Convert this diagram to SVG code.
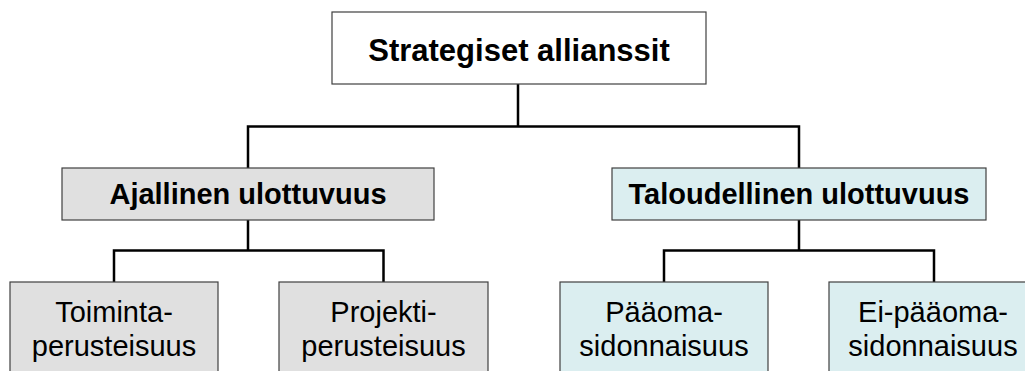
<svg xmlns="http://www.w3.org/2000/svg" width="1025" height="371" viewBox="0 0 1025 371">
  <style>
    .box { stroke: #404040; stroke-width: 1.2; }
    .root { fill: #ffffff; }
    .time { fill: #e0e0e0; }
    .money { fill: #dbeef0; }
    .head { font-family: "Liberation Sans", Arial, sans-serif; font-weight: bold; fill: #000; text-anchor: middle; }
    .leaf { font-family: "Liberation Sans", Arial, sans-serif; font-size: 29px; fill: #000; text-anchor: middle; }
    .wire { fill: none; stroke: #000; stroke-width: 2.5; stroke-linecap: square; }
  </style>

  <!-- connectors -->
  <g id="connectors">
    <path class="wire" d="M518 84 V126.5 M248 168 V126.5 H799 V168"/>
    <path class="wire" d="M248 220 V250.5 M114 282 V250.5 H383.5 V282"/>
    <path class="wire" d="M799 220 V250.5 M664 282 V250.5 H934 V282"/>
  </g>

  <g id="root">
    <rect class="box root" x="332" y="12" width="374" height="72"/>
    <text class="head" x="519" y="61" font-size="31">Strategiset allianssit</text>
  </g>

  <g id="ajallinen">
    <rect class="box time" x="62" y="168" width="372" height="52"/>
    <text class="head" x="248" y="204" font-size="29">Ajallinen ulottuvuus</text>
  </g>

  <g id="taloudellinen">
    <rect class="box money" x="612" y="168" width="374" height="52"/>
    <text class="head" x="799" y="204" font-size="29">Taloudellinen ulottuvuus</text>
  </g>

  <g id="toiminta">
    <rect class="box time" x="10" y="282" width="208" height="100"/>
    <text class="leaf" x="114" y="322">Toiminta-</text>
    <text class="leaf" x="114" y="356">perusteisuus</text>
  </g>

  <g id="projekti">
    <rect class="box time" x="279" y="282" width="209" height="100"/>
    <text class="leaf" x="383.5" y="322">Projekti-</text>
    <text class="leaf" x="383.5" y="356">perusteisuus</text>
  </g>

  <g id="paaoma">
    <rect class="box money" x="560" y="282" width="208" height="100"/>
    <text class="leaf" x="664" y="322">Pääoma-</text>
    <text class="leaf" x="664" y="356">sidonnaisuus</text>
  </g>

  <g id="ei-paaoma">
    <rect class="box money" x="829" y="282" width="208" height="100"/>
    <text class="leaf" x="933" y="322">Ei-pääoma-</text>
    <text class="leaf" x="933" y="356">sidonnaisuus</text>
  </g>
</svg>
